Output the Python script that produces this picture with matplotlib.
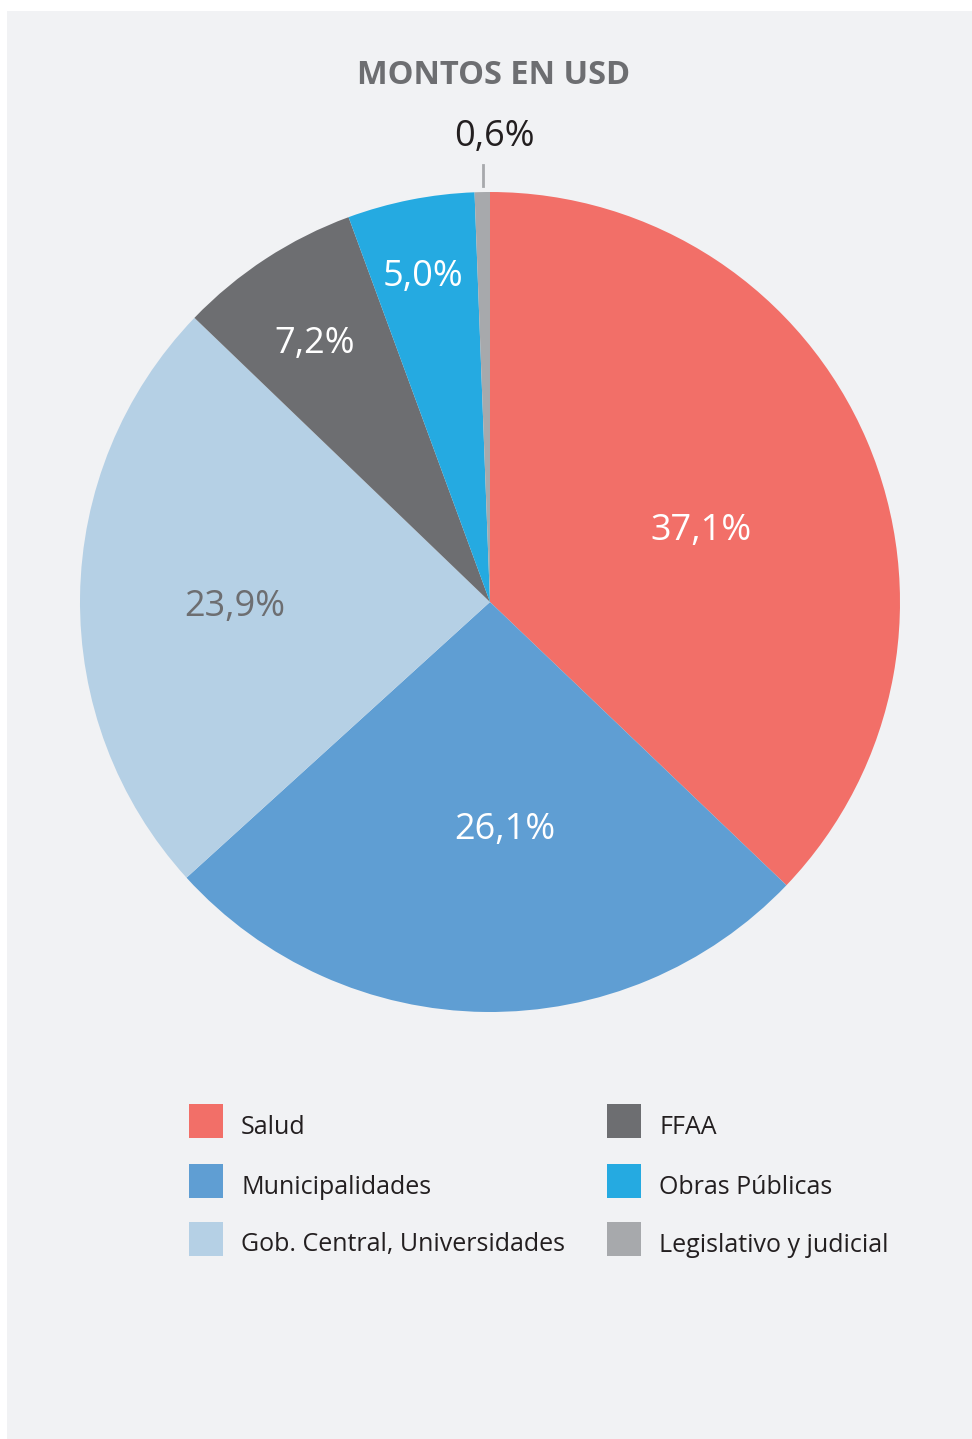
import matplotlib
matplotlib.use('Agg')
import matplotlib.pyplot as plt
from matplotlib.patches import Rectangle

# data
categories = ['Salud', 'Municipalidades', 'Gob. Central, Universidades',
              'FFAA', 'Obras Públicas', 'Legislativo y judicial']
values = [37.1, 26.1, 23.9, 7.2, 5.0, 0.6]
labels = ['37,1%', '26,1%', '23,9%', '7,2%', '5,0%', '0,6%']
colors = ['#f26f68', '#5f9ed3', '#b5d0e5', '#6d6e71', '#25aae1', '#a7a9ac']
label_colors = ['white', 'white', '#6d6e71', 'white', 'white', '#231f20']

plt.rcParams['font.family'] = ['Open Sans', 'DejaVu Sans']

W, H = 972, 1439
fig = plt.figure(figsize=(W / 100, H / 100), dpi=100)
fig.patch.set_facecolor('white')
fig.patches.append(Rectangle((7 / W, 0), 1, 1 - 11 / H, transform=fig.transFigure,
                             facecolor='#f1f2f4', edgecolor='none', zorder=-5))

# pie axis: center (490, 602), radius 410
cx, cy, r = 490, 602, 410
ax = fig.add_axes([(cx - r) / W, 1 - (cy + r) / H, 2 * r / W, 2 * r / H])
ax.set_zorder(1)
ax.patch.set_visible(False)
ax.pie(values, colors=colors, startangle=90, counterclock=False,
       radius=1, wedgeprops=dict(linewidth=0))
ax.set_xlim(-1, 1)
ax.set_ylim(-1, 1)
ax.axis('off')

# label positions in pixels
label_px = [(701, 531), (505, 830), (235, 607), (315, 344), (423, 277), (494, 137)]
for (px, py), txt, c in zip(label_px, labels, label_colors):
    fig.text(px / W, 1 - py / H, txt, color=c, fontsize=26, ha='center',
             va='center', zorder=5)

# leader line for the small slice
fig.add_artist(plt.Line2D([483 / W, 483 / W], [1 - 165 / H, 1 - 186 / H],
                          color='#a7a9ac', linewidth=2))

fig.text(494 / W, 1 - 75 / H, 'MONTOS EN USD', color='#6d6e71', fontsize=23.5,
         fontweight='bold', ha='center', va='center')

# legend
rows = [1121, 1181, 1239]
cols = [(189, 241), (607, 659)]
for i, (name, c) in enumerate(zip(categories, colors)):
    col = cols[i // 3]
    y = rows[i % 3]
    fig.patches.append(Rectangle((col[0] / W, 1 - (y + 17) / H), 34 / W, 34 / H,
                                 transform=fig.transFigure, facecolor=c,
                                 edgecolor='none'))
    fig.text(col[1] / W, 1 - (y + 6) / H, name, color='#231f20', fontsize=18,
             ha='left', va='center')

fig.savefig('out.png', dpi=100, facecolor=fig.get_facecolor())
